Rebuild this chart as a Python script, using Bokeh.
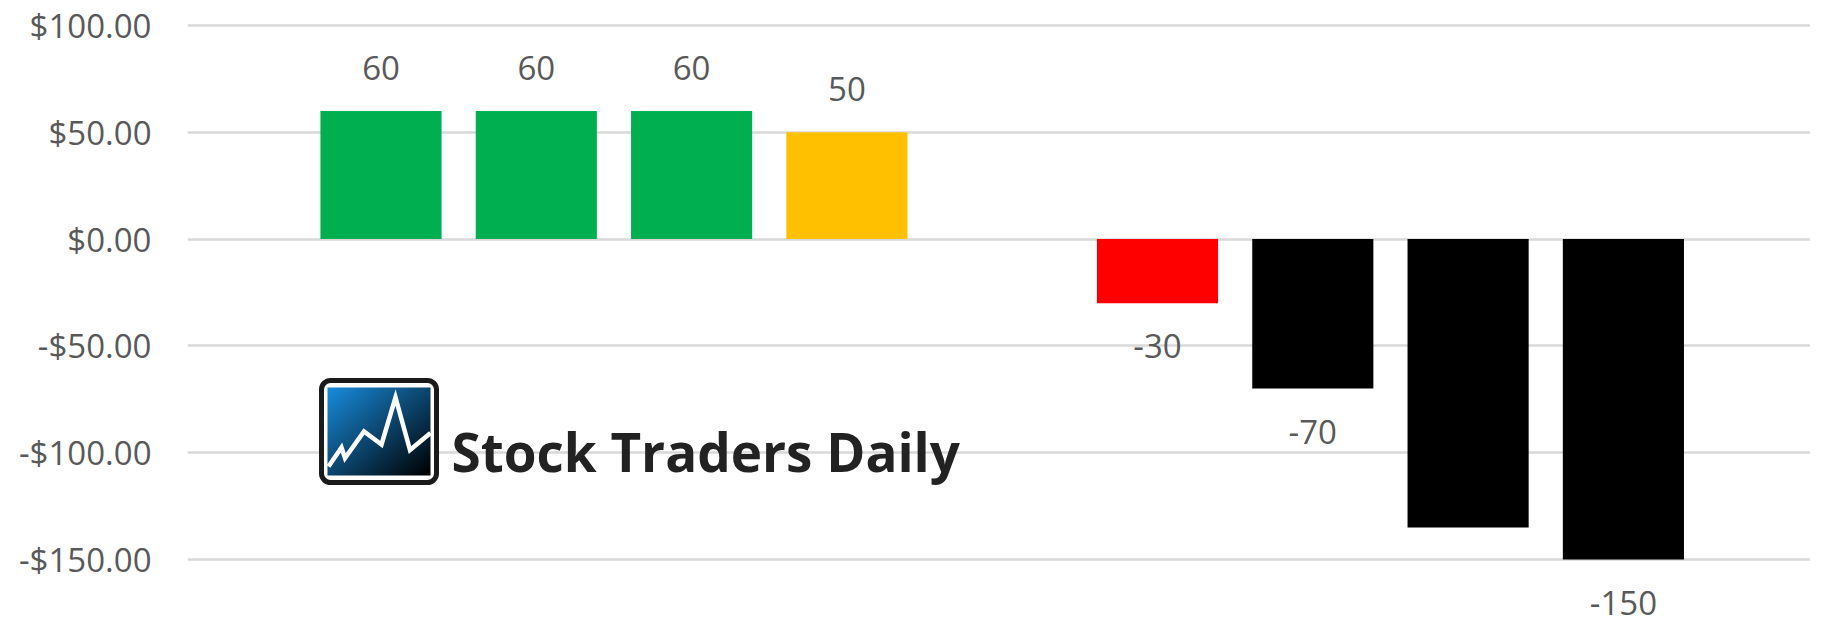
import numpy as np
from bokeh.plotting import figure
from bokeh.models import ColumnDataSource, FixedTicker, Range1d
from bokeh.core.properties import value
from bokeh.embed import file_html
from bokeh.resources import INLINE

# ---------------- data ----------------
slots = [0, 1, 2, 3, 4, 5, 6, 7, 8]
values = [60, 60, 60, 50, None, -30, -70, -135, -150]
bar_labels = ["60", "60", "60", "50", "", "-30", "-70", "", "-150"]
bar_colors = ["#00B050", "#00B050", "#00B050", "#FFC000", "#FFFFFF",
              "#FF0000", "#000000", "#000000", "#000000"]
tick_values = [-150, -100, -50, 0, 50, 100]
tick_labels = ["-$150.00", "-$100.00", "-$50.00", "$0.00", "$50.00", "$100.00"]
logo_text = "Stock Traders Daily"

# ---------------- layout ----------------
W, H = 1810, 627
FRAME_L = 187
FRAME_R = 0
PX_PER_SLOT = 155.3
PX_PER_UNIT = 2.136
ZERO_Y = 238.6
FIRST_CENTER = 380.5
X0 = -(FIRST_CENTER - FRAME_L) / PX_PER_SLOT
X1 = X0 + (W - FRAME_L - FRAME_R) / PX_PER_SLOT
Y1 = ZERO_Y / PX_PER_UNIT
Y0 = -(H - ZERO_Y) / PX_PER_UNIT
LABEL_GAP = 43  # px between bar end and label centre

rows = [i for i, v in enumerate(values) if v is not None]
src = ColumnDataSource(dict(
    x=[slots[i] for i in rows],
    top=[values[i] for i in rows],
    color=[bar_colors[i] for i in rows],
    label=[bar_labels[i] for i in rows],
    ly=[values[i] + (1 if values[i] >= 0 else -1) * LABEL_GAP / PX_PER_UNIT for i in rows],
))

p = figure(width=W, height=H, x_range=Range1d(X0, X1), y_range=Range1d(Y0, Y1),
           x_axis_location=None, toolbar_location=None, output_backend="svg",
           min_border_left=FRAME_L, min_border_right=FRAME_R,
           min_border_top=0, min_border_bottom=0)
p.outline_line_color = None
p.background_fill_color = "white"
p.border_fill_color = "white"

for g in p.grid:
    if g.dimension == 0:
        g.visible = False

p.yaxis.ticker = FixedTicker(ticks=tick_values)
p.ygrid.ticker = FixedTicker(ticks=tick_values)
p.ygrid.grid_line_color = "#D9D9D9"
p.ygrid.grid_line_width = 2.5
p.yaxis.axis_line_color = None
p.yaxis.major_tick_line_color = None
p.yaxis.minor_tick_line_color = None
p.yaxis.major_tick_out = 0
p.yaxis.major_tick_in = 0
p.yaxis.major_label_standoff = 36
p.yaxis.major_label_overrides = dict(zip(tick_values, tick_labels))
p.yaxis.major_label_text_font = "Open Sans"
p.yaxis.major_label_text_font_size = "33px"
p.yaxis.major_label_text_color = "#595959"

p.vbar(x="x", top="top", bottom=0, width=0.78, fill_color="color",
       line_color=None, source=src)
p.text(x="x", y="ly", text="label", source=src, text_align="center",
       text_baseline="middle", text_font=value("Open Sans"),
       text_font_size="33px", text_color="#595959")

# ---------------- logo (decoration) ----------------
def lx(px):
    return X0 + (px - FRAME_L) / PX_PER_SLOT

def ly(py):
    return (ZERO_Y - py) / PX_PER_UNIT

LOGO_OUTER = (321, 436, 380, 482)   # left, right, top, bottom (px)
LOGO_INNER = (327, 430, 387, 475)
LOGO_ZIG_X = [328, 341, 344.5, 363.5, 381, 395, 409.5, 430]
LOGO_ZIG_Y = [466, 447, 457.5, 431, 444, 397, 449.5, 432.5]

l, r, t, b = LOGO_OUTER
p.quad(left=lx(l), right=lx(r), top=ly(t), bottom=ly(b), fill_color="white",
       line_color="#1A1A1A", line_width=5, border_radius=9)

il, ir, it, ib = LOGO_INNER
nx, ny = 104, 88
img = np.empty((ny, nx), dtype=np.uint32)
view = img.view(dtype=np.uint8).reshape((ny, nx, 4))
blue = np.array([24, 140, 220], dtype=float)
for j in range(ny):
    vt = 1 - j / (ny - 1)
    for i in range(nx):
        u = i / (nx - 1)
        tt = min(1.0, (u + vt) / 2.0)
        c = blue * (1 - tt) ** 1.0
        view[j, i, 0] = int(c[0]); view[j, i, 1] = int(c[1]); view[j, i, 2] = int(c[2])
        view[j, i, 3] = 255
p.image_rgba(image=[img], x=lx(il), y=ly(ib), dw=lx(ir) - lx(il), dh=ly(it) - ly(ib))
p.line(x=[lx(v) for v in LOGO_ZIG_X], y=[ly(v) for v in LOGO_ZIG_Y],
       line_color="white", line_width=4.5, line_join="miter")

p.text(x=[lx(451)], y=[ly(451)], text=[logo_text], text_align="left",
       text_baseline="alphabetic", text_font=value("Open Sans"),
       text_font_style="bold", text_font_size="53px", text_color="#222222")

open("out.html", "w").write(file_html(p, INLINE))
